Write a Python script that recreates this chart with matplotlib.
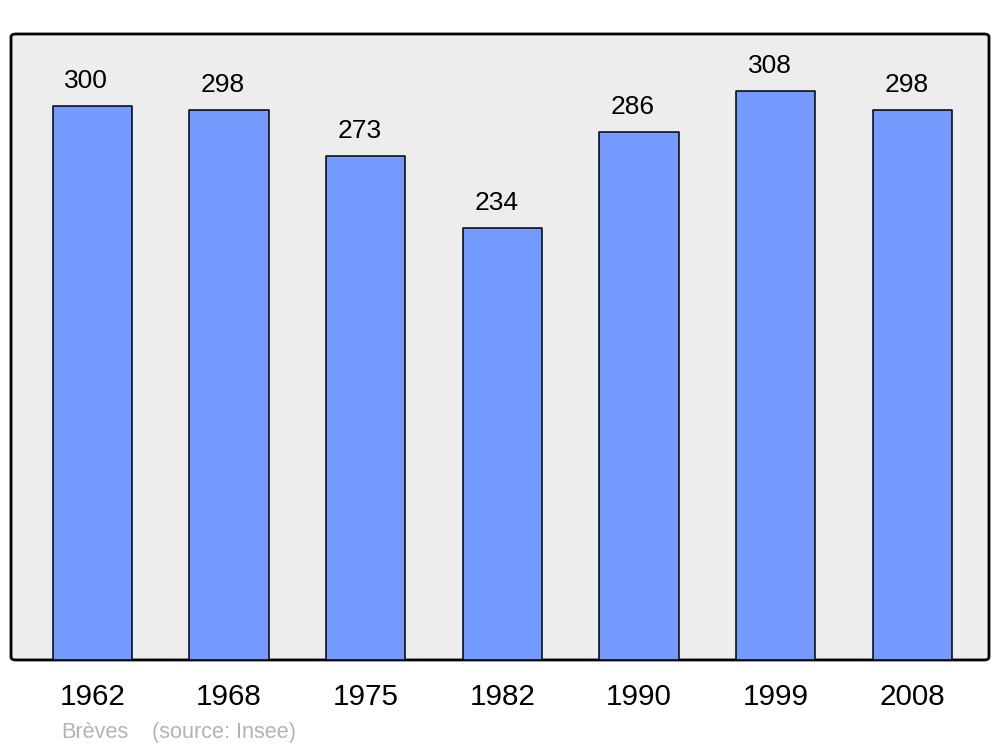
import numpy as np
import matplotlib.pyplot as plt
import matplotlib.transforms as mtransforms
from matplotlib.patches import FancyBboxPatch

# population data
years = ['1962', '1968', '1975', '1982', '1990', '1999', '2008']
population = [300, 298, 273, 234, 286, 308, 298]

plt.rcParams['font.family'] = ['Liberation Sans', 'DejaVu Sans']

fig = plt.figure(figsize=(10, 7.47), dpi=100)
ax = fig.add_axes([0.011, 0.1165, 0.978, 0.838])

x = np.arange(len(years))
bars = ax.bar(x, population, width=0.58, color='#7499ff', edgecolor='black',
              linewidth=1.1, zorder=2)
for b in bars:
    b.set_joinstyle('round')

# value labels sit a little left of the bar centre, as in the original
for xi, v in zip(x, population):
    ax.annotate(str(v), (xi, v), xytext=(-4.5, 13), textcoords='offset points',
                ha='center', va='baseline', fontsize=19)

ax.set_xlim(-0.595, 6.56)
ax.set_ylim(0, 339)
ax.set_xticks(x)
ax.set_xticklabels(years, fontsize=21.3)
shift = mtransforms.ScaledTranslation(-1.5 / 72, 0, fig.dpi_scale_trans)
for lbl in ax.get_xticklabels():
    lbl.set_transform(lbl.get_transform() + shift)
ax.tick_params(axis='x', length=0, pad=16.5)
ax.set_yticks([])
for s in ax.spines.values():
    s.set_visible(False)
ax.patch.set_visible(False)

# rounded frame
frame = FancyBboxPatch((0, 0), 1, 1, boxstyle='round,pad=0,rounding_size=0.005',
                       transform=ax.transAxes, facecolor='#ededed',
                       edgecolor='black', linewidth=2.0, zorder=0, clip_on=False)
ax.add_patch(frame)

fig.text(0.061, 0.012, 'Brèves', color='#b3b3b3', fontsize=15.6, va='baseline')
fig.text(0.152, 0.012, '(source: Insee)', color='#b3b3b3', fontsize=15.6,
         va='baseline')

fig.savefig('out.png', dpi=100)
